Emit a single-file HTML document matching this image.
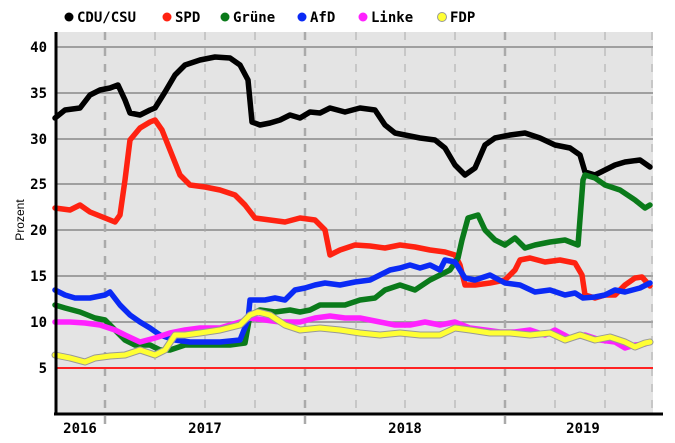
<!DOCTYPE html>
<html><head><meta charset="utf-8"><style>
html,body{margin:0;padding:0;background:#fff;}
svg{display:block;font-family:"DejaVu Sans Mono","Liberation Mono",monospace;font-weight:bold;}
</style></head><body>
<svg width="675" height="443" viewBox="0 0 675 443" xmlns="http://www.w3.org/2000/svg">
<rect x="56" y="32" width="597" height="381" fill="#e4e4e4"/>
<g stroke="#888" stroke-width="1.5">
<line x1="56" x2="653" y1="47" y2="47"/><line x1="56" x2="653" y1="93" y2="93"/>
<line x1="56" x2="653" y1="139" y2="139"/><line x1="56" x2="653" y1="184" y2="184"/>
<line x1="56" x2="653" y1="230" y2="230"/><line x1="56" x2="653" y1="276" y2="276"/>
<line x1="56" x2="653" y1="322" y2="322"/>
</g>
<g stroke="#aaa" stroke-width="1" stroke-dasharray="8,8">
<line x1="155" x2="155" y1="32" y2="413"/><line x1="205" x2="205" y1="32" y2="413"/>
<line x1="255" x2="255" y1="32" y2="413"/><line x1="356" x2="356" y1="32" y2="413"/>
<line x1="405" x2="405" y1="32" y2="413"/><line x1="455" x2="455" y1="32" y2="413"/>
<line x1="555" x2="555" y1="32" y2="413"/><line x1="605" x2="605" y1="32" y2="413"/>
<line x1="652" x2="652" y1="32" y2="413"/>
</g>
<g stroke="#aaa" stroke-width="2.5" stroke-dasharray="8,8">
<line x1="105" x2="105" y1="32" y2="430"/><line x1="305" x2="305" y1="32" y2="430"/>
<line x1="505" x2="505" y1="32" y2="430"/>
</g>
<line x1="56" x2="653" y1="368" y2="368" stroke="#f22" stroke-width="2"/>
<g fill="none" stroke-width="5.5" stroke-linejoin="round" stroke-linecap="round">
<polyline stroke="#000" points="55,118 65,110 80,108 90,95 100,90 110,88 118,85 125,100 130,113 140,115 150,110 155,108 165,92 175,75 185,65 200,60 215,57 230,58 240,65 248,80 252,122 260,125 270,123 280,120 290,115 300,118 310,112 320,113 330,108 345,112 360,108 375,110 385,125 395,133 405,135 420,138 435,140 445,148 455,165 465,175 475,168 485,145 495,138 510,135 525,133 540,138 555,145 570,148 580,155 585,172 595,175 605,170 615,165 625,162 640,160 650,167"/>
<polyline stroke="#f21" points="55,208 70,210 80,205 90,212 105,218 115,222 120,215 125,180 130,140 140,128 150,122 155,120 162,130 170,150 180,175 190,185 205,187 220,190 235,195 245,205 255,218 270,220 285,222 300,218 315,220 325,230 330,255 340,250 355,245 370,246 385,248 400,245 415,247 430,250 445,252 455,255 460,265 465,285 475,285 490,283 505,280 515,270 520,260 530,258 545,262 560,260 575,263 582,275 585,295 595,298 605,295 615,295 625,285 635,278 642,277 650,286"/>
<polyline stroke="#0a7a1a" points="55,305 65,308 80,312 95,318 105,320 115,330 125,340 135,345 150,345 160,350 170,350 185,345 200,345 215,345 230,345 245,343 250,315 260,310 275,312 290,310 300,312 310,310 320,305 330,305 345,305 360,300 375,298 385,290 400,285 415,290 430,280 440,275 450,270 458,258 462,240 468,218 478,215 485,230 495,240 505,245 515,238 525,248 535,245 550,242 565,240 578,245 583,180 585,175 595,178 605,185 620,190 635,200 645,208 650,205"/>
<polyline stroke="#0a2af5" points="55,290 65,295 75,298 90,298 105,295 110,292 120,305 130,315 140,322 150,328 160,335 175,340 190,342 205,342 220,342 240,340 248,320 250,300 265,300 275,298 285,300 295,290 305,288 315,285 325,283 340,285 355,282 370,280 380,275 390,270 400,268 410,265 420,268 430,265 440,270 445,260 455,262 460,270 465,278 475,280 490,275 505,283 520,285 535,292 550,290 565,295 575,293 583,298 595,297 605,295 615,290 625,292 640,288 650,283"/>
<polyline stroke="#f2f" points="55,322 70,322 85,323 100,325 115,330 125,335 140,342 155,338 170,333 185,330 200,328 220,328 240,322 250,318 265,320 280,322 300,322 315,318 330,316 345,318 360,318 380,322 395,325 410,325 425,322 440,325 455,322 470,328 485,330 500,332 515,332 530,330 545,335 555,330 570,338 585,335 600,340 615,342 625,348 635,345 645,344 650,342"/>
<polyline stroke="#999" stroke-width="7" points="55,355 70,358 85,362 95,358 110,356 125,355 140,350 155,355 165,350 175,335 185,335 200,333 220,330 240,325 250,315 258,312 270,315 285,325 300,330 320,328 340,330 360,333 380,335 400,333 420,335 440,335 455,328 470,330 490,333 510,333 530,335 550,333 565,340 580,335 595,340 610,337 625,342 635,347 645,343 650,342"/>
<polyline stroke="#ff3" stroke-width="5" points="55,355 70,358 85,362 95,358 110,356 125,355 140,350 155,355 165,350 175,335 185,335 200,333 220,330 240,325 250,315 258,312 270,315 285,325 300,330 320,328 340,330 360,333 380,335 400,333 420,335 440,335 455,328 470,330 490,333 510,333 530,335 550,333 565,340 580,335 595,340 610,337 625,342 635,347 645,343 650,342"/>
</g>
<line x1="56" x2="56" y1="32" y2="415" stroke="#000" stroke-width="3"/>
<line x1="54" x2="663" y1="414" y2="414" stroke="#000" stroke-width="3"/>
<g font-size="14" fill="#000" text-anchor="end">
<text x="47" y="52">40</text><text x="47" y="98">35</text><text x="47" y="144">30</text>
<text x="47" y="189">25</text><text x="47" y="235">20</text><text x="47" y="281">15</text>
<text x="47" y="327">10</text><text x="47" y="373">5</text>
</g>
<text x="24" y="220" font-size="12" font-weight="normal" font-family="Liberation Sans,sans-serif" transform="rotate(-90 24 220)" text-anchor="middle">Prozent</text>
<g font-size="14" fill="#000" text-anchor="middle">
<text x="80" y="433">2016</text><text x="205" y="433">2017</text>
<text x="405" y="433">2018</text><text x="583" y="433">2019</text>
</g>
<g font-size="14">
<circle cx="69" cy="17" r="4.5" fill="#000"/><text x="77" y="22">CDU/CSU</text>
<circle cx="167" cy="17" r="4.5" fill="#f21"/><text x="175" y="22">SPD</text>
<circle cx="225" cy="17" r="4.5" fill="#0a7a1a"/><text x="233" y="22">Grüne</text>
<circle cx="302" cy="17" r="4.5" fill="#0a2af5"/><text x="310" y="22">AfD</text>
<circle cx="363" cy="17" r="4.5" fill="#f2f"/><text x="371" y="22">Linke</text>
<circle cx="442" cy="17" r="4.5" fill="#ff3" stroke="#999" stroke-width="1"/><text x="450" y="22">FDP</text>
</g>
</svg>
</body></html>
